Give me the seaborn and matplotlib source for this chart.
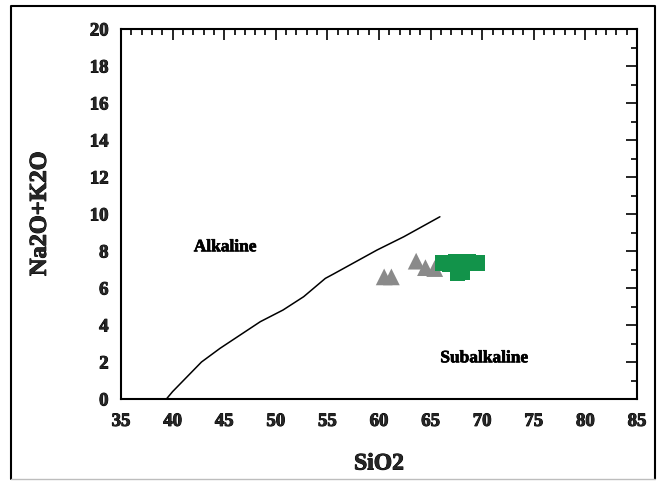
import matplotlib
matplotlib.use("Agg")
import matplotlib.pyplot as plt
from matplotlib.lines import Line2D
from matplotlib.ticker import MultipleLocator
import matplotlib.patheffects as pe
import pandas as pd
import seaborn as sns

# Alkaline / subalkaline dividing line (Irvine & Baragar)
boundary_sio2 = [39.4, 40.0, 42.8, 44.6, 48.5, 50.7, 52.7, 54.8, 55.6, 59.8, 62.4, 65.9]
boundary_alk = [0.0, 0.4, 2.0, 2.74, 4.18, 4.81, 5.53, 6.52, 6.76, 8.05, 8.77, 9.85]

# Samples plotted as grey triangles
tri_sio2 = [60.5, 61.2, 63.6, 64.5, 65.4]
tri_alk = [6.6, 6.6, 7.45, 7.1, 7.05]

# Samples plotted as green squares
sq_sio2 = [66.2, 67.4, 68.7, 69.5, 67.6, 68.1, 66.8]
sq_alk = [7.35, 7.4, 7.4, 7.35, 6.8, 6.85, 7.3]

field_labels = ["Alkaline", "Subalkaline"]
field_x = [45.1, 70.2]
field_y = [8.2, 2.2]

x_ticks = [35, 40, 45, 50, 55, 60, 65, 70, 75, 80, 85]
y_ticks = [0, 2, 4, 6, 8, 10, 12, 14, 16, 18, 20]

sns.set_style("white")
plt.rcParams["font.family"] = ["Liberation Serif", "DejaVu Serif"]
plt.rcParams["font.weight"] = "bold"

heavy = [pe.withStroke(linewidth=0.7, foreground="black")]

fig = plt.figure(figsize=(6.62, 4.82), dpi=100)
ax = fig.add_axes([121 / 662, 1 - 399 / 482, 516 / 662, 370 / 482])

boundary = pd.DataFrame({"SiO2": boundary_sio2, "Alk": boundary_alk})
tris = pd.DataFrame({"SiO2": tri_sio2, "Alk": tri_alk})
squares = pd.DataFrame({"SiO2": sq_sio2, "Alk": sq_alk})

sns.lineplot(data=boundary, x="SiO2", y="Alk", sort=False, color="black",
             linewidth=1.1, ax=ax)
sns.scatterplot(data=tris, x="SiO2", y="Alk", marker="^", s=145,
                color="#8a8a8a", edgecolor="none", ax=ax, zorder=3)
sns.scatterplot(data=squares, x="SiO2", y="Alk", marker="s", s=120,
                color="#12934a", edgecolor="none", ax=ax, zorder=4)

for label, lx, ly in zip(field_labels, field_x, field_y):
    ax.text(lx, ly, label, ha="center", va="center", fontsize=12.5,
            fontweight="bold", color="black",
            path_effects=[pe.withStroke(linewidth=0.5, foreground="black")])

ax.set_xlim(35, 85)
ax.set_ylim(0, 20)
ax.set_xticks(x_ticks)
ax.set_yticks(y_ticks)
ax.xaxis.set_minor_locator(MultipleLocator(1))
ax.yaxis.set_minor_locator(MultipleLocator(1))
ax.tick_params(which="both", direction="in", top=True, right=True,
               color="black", width=1.2)
ax.tick_params(which="major", length=8)
ax.tick_params(which="minor", length=4)
ax.tick_params(axis="x", which="major", pad=10, labelsize=13.5)
ax.tick_params(axis="y", which="major", pad=9, labelsize=13.5)
for lbl in ax.get_xticklabels() + ax.get_yticklabels():
    lbl.set_fontweight("bold")
    lbl.set_path_effects(heavy)

for spine in ax.spines.values():
    spine.set_visible(True)
    spine.set_color("black")
    spine.set_linewidth(1.5)

ax.set_xlabel("SiO2", fontsize=17, fontweight="bold", labelpad=17,
              path_effects=heavy)
ax.set_ylabel("Na2O+K2O", fontsize=17.5, fontweight="bold", labelpad=28,
              path_effects=heavy)

# Outer frame around the whole figure
W, H = 662, 482
frame_x = [11 / W, 11 / W, 655 / W, 655 / W]
frame_y = [1 - 479 / H, 1 - 6 / H, 1 - 6 / H, 1 - 479 / H]
fig.add_artist(Line2D(frame_x, frame_y, transform=fig.transFigure,
                      color="black", linewidth=1.5))
fig.add_artist(Line2D([11 / W, 655 / W], [1 - 479 / H, 1 - 479 / H],
                      transform=fig.transFigure, color="#bdbdbd", linewidth=1.0))

fig.savefig("out.png", dpi=100)
